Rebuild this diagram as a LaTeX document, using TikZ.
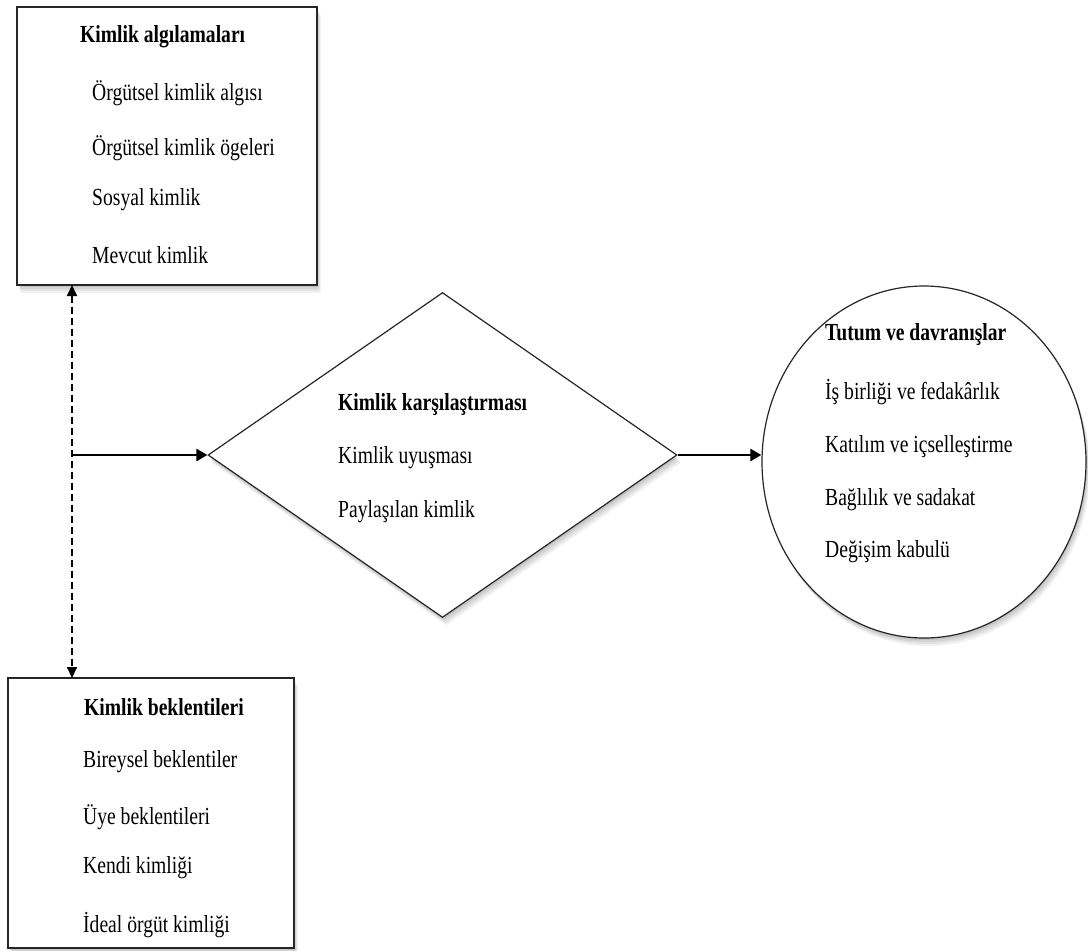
\documentclass[tikz,border=0pt]{standalone}
\usepackage{fontspec}
\setmainfont{Liberation Serif}[FakeStretch=0.8]
\usetikzlibrary{shapes.geometric,arrows.meta,shadows}
\begin{document}
\begin{tikzpicture}[x=1pt,y=-1pt,
  softshadow/.style={
    general shadow={fill=black, opacity=0.07, shadow xshift=1pt, shadow yshift=-2pt},
    general shadow={fill=black, opacity=0.07, shadow xshift=2pt, shadow yshift=-4pt},
    general shadow={fill=black, opacity=0.06, shadow xshift=3pt, shadow yshift=-6pt},
    general shadow={fill=black, opacity=0.05, shadow xshift=4pt, shadow yshift=-8pt}},
  frame/.style={draw=black!85, line width=1.4pt, fill=white, inner sep=0pt, softshadow},
  lbl/.style={anchor=west, inner sep=0pt, font=\fontsize{24.5}{28}\selectfont},
  hdr/.style={lbl, font=\fontsize{24.5}{28}\selectfont\bfseries},
  arr/.style={line width=2.6pt, -{Triangle[length=11pt,width=12pt]}},
  darr/.style={line width=1.8pt, dashed, dash pattern=on 7pt off 4pt, {Triangle[length=11pt,width=10pt]}-{Triangle[length=11pt,width=10pt]}}
]
\useasboundingbox[fill=white] (0,0) rectangle (1088,951);

% top box
\node[frame, minimum width=300pt, minimum height=278pt] (top) at (167,146) {};
\node[hdr] (t0) at (80,37) {Kimlik algılamaları};
\node[lbl] (t1) at (92,93) {Örgütsel kimlik algısı};
\node[lbl] (t2) at (92,148) {Örgütsel kimlik ögeleri};
\node[lbl] (t3) at (92,200) {Sosyal kimlik};
\node[lbl] (t4) at (92,255) {Mevcut kimlik};

% bottom box
\node[frame, minimum width=286pt, minimum height=270pt] (bot) at (151,813) {};
\node[hdr] (b0) at (84,707) {Kimlik beklentileri};
\node[lbl] (b1) at (83,762) {Bireysel beklentiler};
\node[lbl] (b2) at (83,817) {Üye beklentileri};
\node[lbl] (b3) at (83,868) {Kendi kimliği};
\node[lbl] (b4) at (83,925) {İdeal örgüt kimliği};

% diamond
\node[frame, diamond, line width=1.2pt, minimum width=469pt, minimum height=325pt] (dia) at (442.5,455) {};
\node[hdr] (d0) at (338,405) {Kimlik karşılaştırması};
\node[lbl] (d1) at (338,458) {Kimlik uyuşması};
\node[lbl] (d2) at (338,512) {Paylaşılan kimlik};

% ellipse
\node[frame, ellipse, line width=1.2pt, minimum width=324pt, minimum height=352pt] (ell) at (924,462) {};
\node[hdr] (e0) at (825,335) {Tutum ve davranışlar};
\node[lbl] (e1) at (825,392) {İş birliği ve fedakârlık};
\node[lbl] (e2) at (825,447) {Katılım ve içselleştirme};
\node[lbl] (e3) at (825,500) {Bağlılık ve sadakat};
\node[lbl] (e4) at (825,552) {Değişim kabulü};

% connectors
\coordinate (ptop) at (72,285);
\coordinate (pbot) at (72,678);
\coordinate (junc) at (72,455);
\draw[darr] (ptop) -- (pbot);
\draw[arr] (junc) -- (dia.west);
\draw[arr] (dia.east) -- (dia.east -| ell.west);
\end{tikzpicture}
\end{document}
